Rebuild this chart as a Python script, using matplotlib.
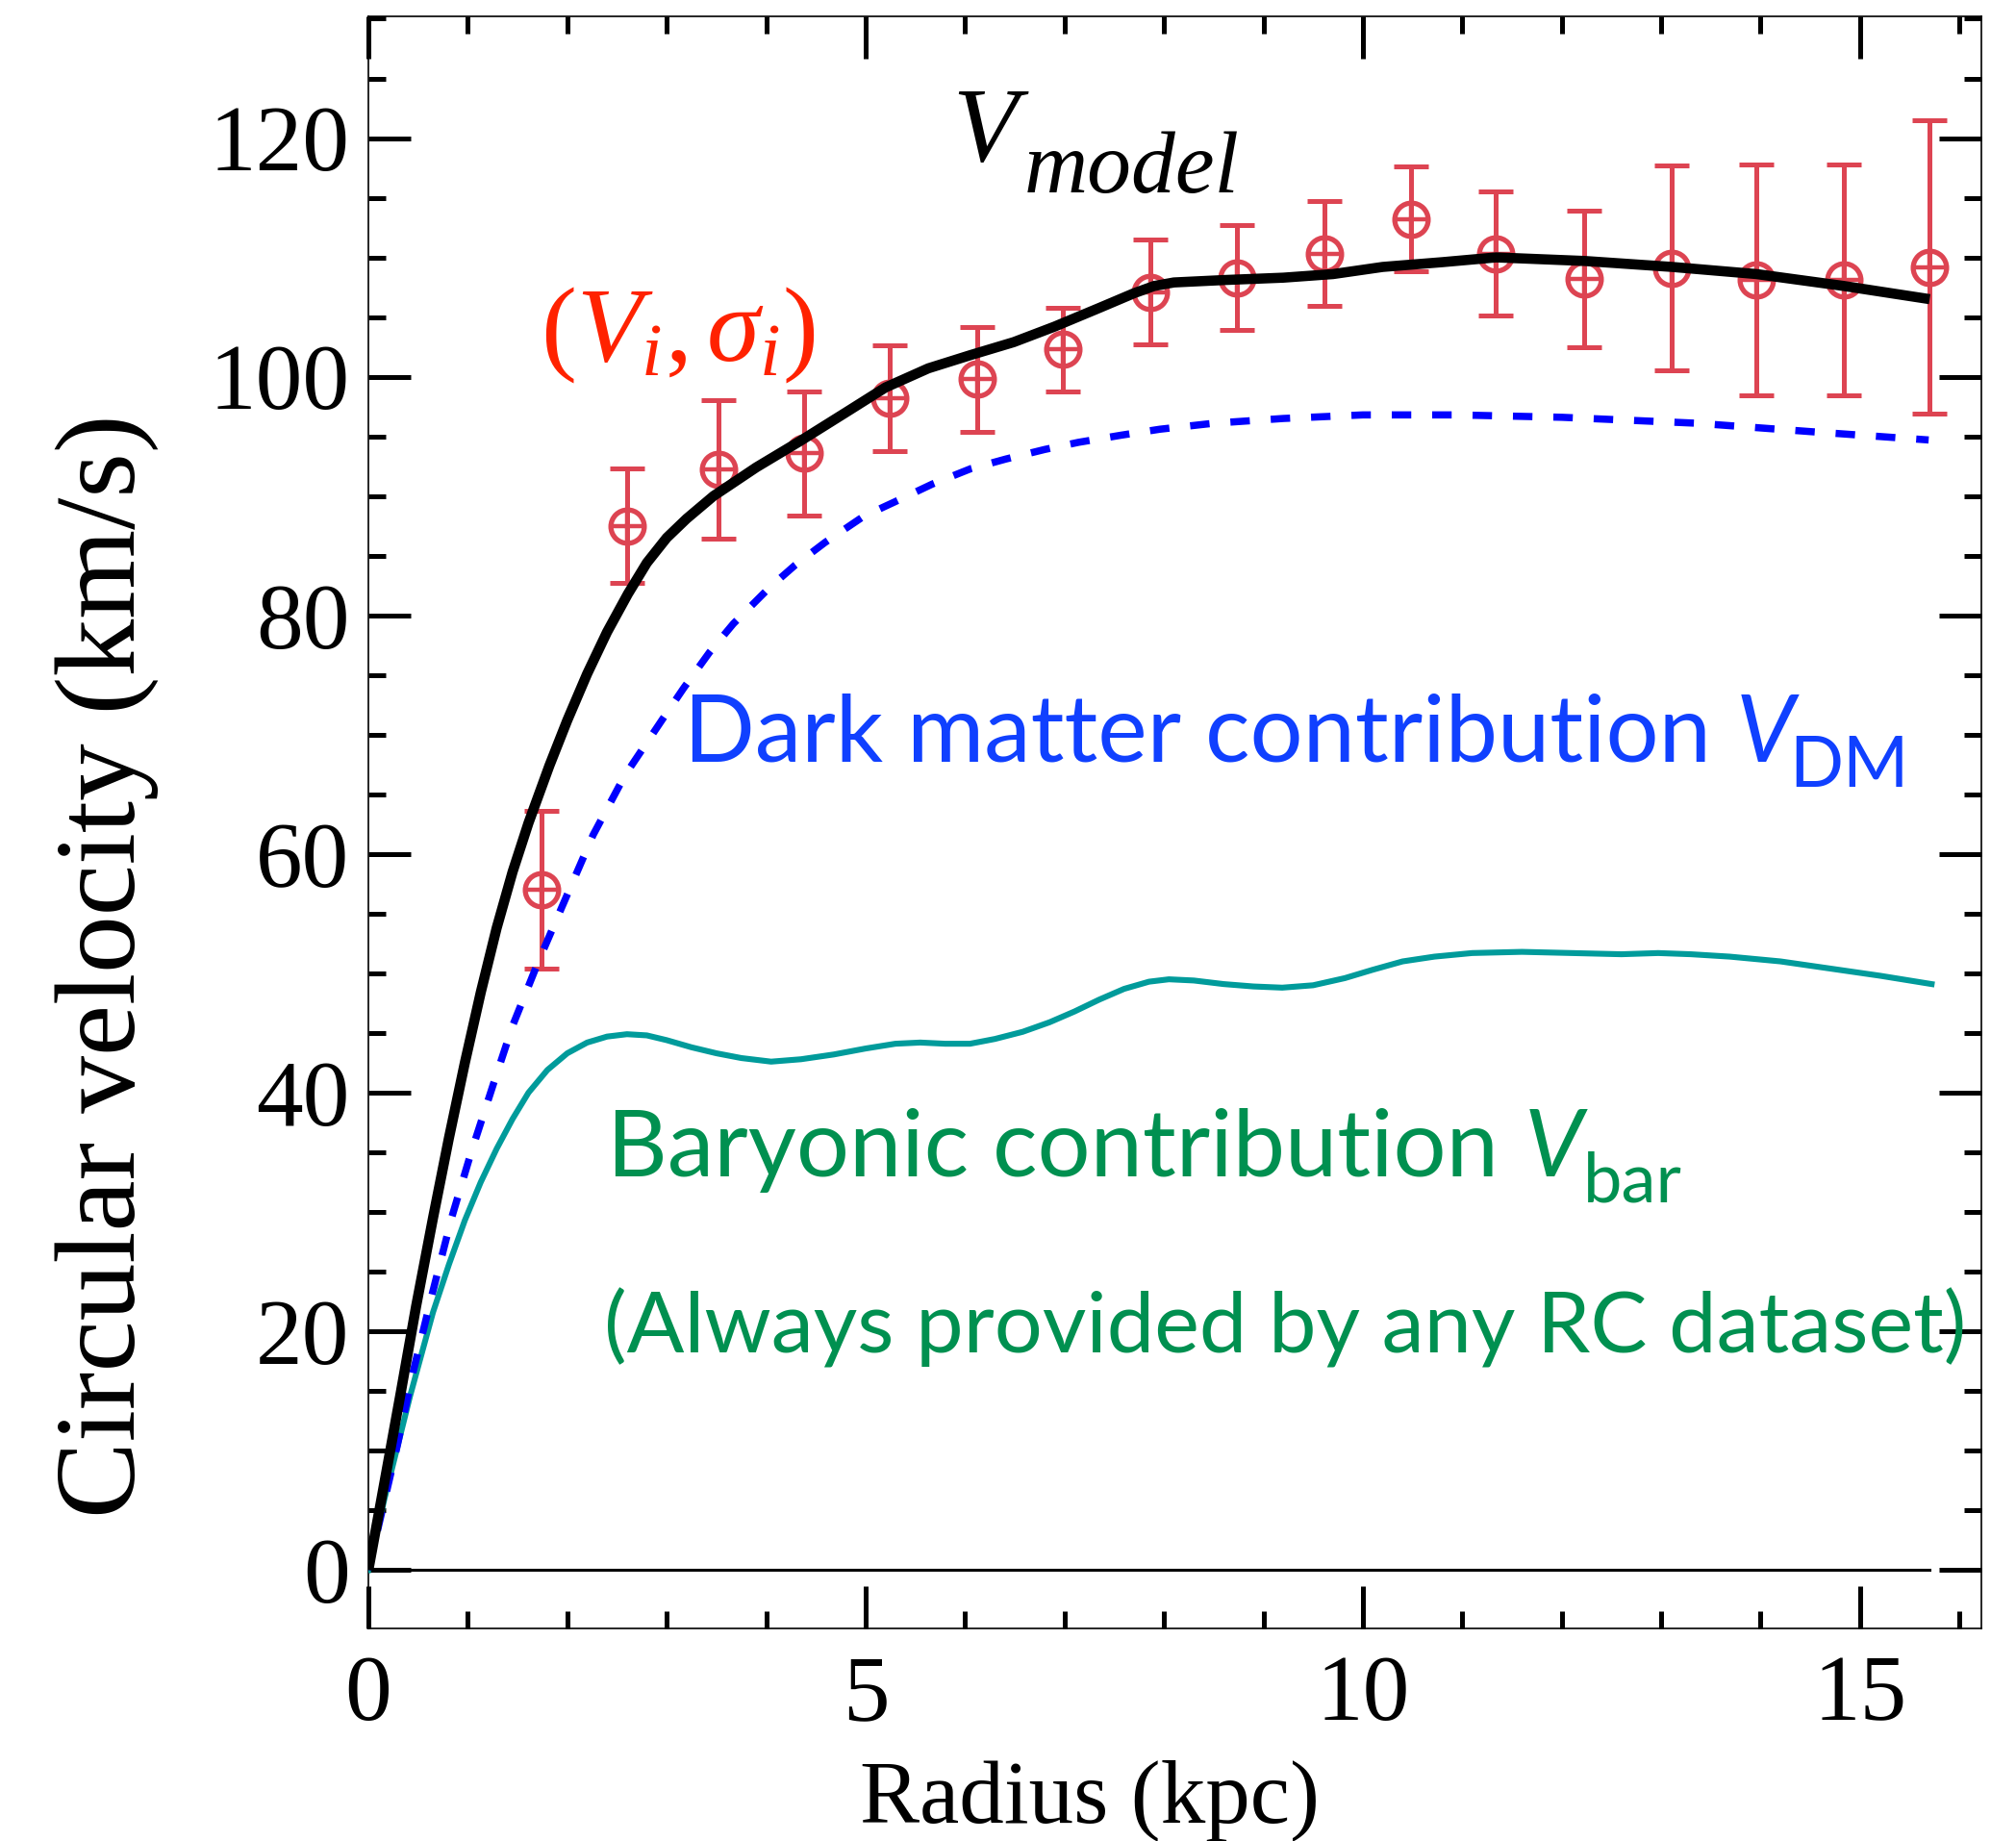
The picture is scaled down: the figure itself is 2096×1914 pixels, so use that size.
import numpy as np
import matplotlib
matplotlib.use("Agg")
import matplotlib.pyplot as plt
from matplotlib.ticker import MultipleLocator

plt.rcParams['font.family'] = ['Liberation Serif', 'DejaVu Serif']
plt.rcParams['mathtext.fontset'] = 'custom'
plt.rcParams['mathtext.rm'] = 'Liberation Serif'
plt.rcParams['mathtext.it'] = 'Liberation Serif:italic'

#Observed rotation curve points (V_i, sigma_i)
r_obs = [1.745, 2.60, 3.52, 4.38, 5.24, 6.12, 6.98, 7.86, 8.73, 9.61,
         10.48, 11.34, 12.23, 13.11, 13.96, 14.84, 15.70]
v_obs = [57.0, 87.5, 92.2, 93.6, 98.2, 99.8, 102.3, 107.1, 108.3, 110.3,
         113.2, 110.3, 108.2, 109.1, 108.1, 108.1, 109.2]
v_err = [6.6, 4.8, 5.8, 5.2, 4.4, 4.4, 3.5, 4.4, 4.4, 4.4,
         4.4, 5.2, 5.7, 8.6, 9.7, 9.7, 12.3]

#Model curve V_model
r_model = [0.0, 0.13, 0.32, 0.48, 0.65, 0.81, 0.97, 1.13, 1.29, 1.45, 1.61,
           1.82, 2.0, 2.2, 2.4, 2.61, 2.8, 3.0, 3.2, 3.47, 3.9, 4.34, 4.8, 5.2,
           5.63, 6.05, 6.49, 6.9, 7.36, 7.7, 7.9, 8.1, 8.6, 9.2, 9.7, 10.2, 10.8,
           11.34, 12.23, 13.11, 13.96, 14.84, 15.70]
v_model = [0.0, 5.9, 14.6, 22.1, 29.5, 36.2, 42.5, 48.4, 53.8, 58.5, 62.6,
           67.4, 71.2, 75.1, 78.6, 81.8, 84.4, 86.5, 88.1, 90.0, 92.4, 94.6, 97.0, 99.1,
           100.7, 101.8, 102.9, 104.2, 105.8, 107.0, 107.6, 107.9, 108.1, 108.3, 108.6, 109.2, 109.6,
           110.0, 109.7, 109.2, 108.6, 107.6, 106.5]

#Dark matter contribution V_DM
r_dm = [0.0, 0.10, 0.29, 0.45, 0.65, 0.84, 1.03, 1.26, 1.45, 1.71, 2.0,
        2.26, 2.58, 2.95, 3.17, 3.43, 3.67, 4.03, 4.29, 4.59, 4.98, 5.29,
        5.67, 6.06, 6.41, 6.80, 7.14, 7.57, 7.96, 8.5, 9.2, 10.0, 10.95,
        12.0, 13.36, 14.5, 15.69]
v_dm = [0.0, 3.6, 10.4, 16.6, 23.4, 29.6, 34.9, 40.8, 45.6, 51.0, 56.6,
        61.6, 66.6, 71.2, 73.9, 76.9, 79.3, 82.3, 84.2, 86.1, 88.3, 89.5,
        91.0, 92.3, 93.1, 93.9, 94.5, 95.1, 95.6, 96.1, 96.5, 96.8, 96.8,
        96.6, 96.1, 95.4, 94.7]

#Baryonic contribution V_bar
r_bar = [0.0, 0.16, 0.42, 0.65, 0.81, 0.97, 1.13, 1.29, 1.45, 1.61, 1.8,
         2.0, 2.2, 2.4, 2.6, 2.8, 3.0, 3.25, 3.5, 3.75, 4.05, 4.35, 4.68,
         5.0, 5.3, 5.55, 5.8, 6.05, 6.3, 6.58, 6.85, 7.1, 7.35, 7.6, 7.85,
         8.05, 8.3, 8.6, 8.9, 9.19, 9.5, 9.82, 10.1, 10.4, 10.72, 11.1, 11.6,
         12.1, 12.6, 12.97, 13.3, 13.69, 14.2, 14.7, 15.2, 15.72]
v_bar = [0.0, 5.9, 14.6, 21.6, 25.6, 29.3, 32.5, 35.3, 37.8, 40.0, 41.9,
         43.3, 44.2, 44.7, 44.9, 44.8, 44.4, 43.8, 43.3, 42.9, 42.6, 42.8, 43.2,
         43.7, 44.1, 44.2, 44.1, 44.1, 44.5, 45.1, 45.9, 46.8, 47.8, 48.7, 49.3,
         49.5, 49.4, 49.1, 48.9, 48.8, 49.0, 49.6, 50.3, 51.0, 51.4, 51.7, 51.8,
         51.7, 51.6, 51.7, 51.6, 51.4, 51.0, 50.4, 49.8, 49.1]

W, H = 2096, 1914
fig = plt.figure(figsize=(W/200., H/200.), dpi=200)
ax = fig.add_axes([383/W, 1-1693/H, (2060-383)/W, (1693-17)/H])

red = '#dd4452'
ax.errorbar(r_obs, v_obs, yerr=v_err, fmt='none', ecolor=red,
            elinewidth=1.8, capsize=6.4, capthick=1.8, zorder=2)
ax.plot(r_obs, v_obs, 'o', mfc='none', mec=red, ms=12.5, mew=1.9, zorder=2)
ax.plot(r_obs, v_obs, '+', color=red, ms=12.5, mew=1.6, zorder=2)

ax.plot([0, r_obs[-1]], [0, 0], color='black', lw=1.1, zorder=3)
ax.plot(r_bar, v_bar, color='#009b9b', lw=2.2, zorder=3)
ax.plot(r_dm, v_dm, color='#0000ff', lw=2.7, ls=(0, (2.7, 2.9)), zorder=4)
ax.plot(r_model, v_model, color='black', lw=3.8, zorder=5,
        solid_capstyle='butt', solid_joinstyle='round')

ax.set_xlim(0, 16.22)
ax.set_ylim(-4.9, 130.2)
ax.xaxis.set_major_locator(MultipleLocator(5))
ax.xaxis.set_minor_locator(MultipleLocator(1))
ax.yaxis.set_minor_locator(MultipleLocator(5))
ax.set_yticks([0, 20, 40, 60, 80, 100, 120])
ax.tick_params(which='both', direction='in', top=True, right=True,
               width=1.8, labelsize=35)
ax.tick_params(which='major', length=16)
ax.tick_params(which='minor', length=6.5)
ax.tick_params(axis='x', pad=10)
ax.tick_params(axis='y', pad=7)
for sp in ax.spines.values():
    sp.set_linewidth(0.6)

def fx(px):
    return px/W

def fy(py):
    return 1-py/H

#Axis labels
fig.text(fx(1133), fy(1895), 'Radius (kpc)', fontsize=33.5,
         ha='center', va='baseline')
fig.text(fx(140), fy(1004), 'Circular velocity (km/s)', fontsize=43,
         rotation=90, rotation_mode='anchor', ha='center', va='baseline')

#Annotations
fig.text(fx(990), fy(167), 'V', fontsize=40, style='italic',
         ha='left', va='baseline')
fig.text(fx(1065), fy(200), 'model', fontsize=33, style='italic',
         ha='left', va='baseline')
fig.text(fx(562), fy(375), r'$(V_i, \sigma_i)$', fontsize=40,
         color='#ff2200', ha='left', va='baseline')

blue = '#1040ff'
sans = 'Lato'
fig.text(fx(711), fy(792), 'Dark matter contribution', fontsize=35,
         family=sans, color=blue, ha='left', va='baseline')
fig.text(fx(1805), fy(792), 'V', fontsize=35, family=sans, style='italic',
         color=blue, ha='left', va='baseline')
fig.text(fx(1860), fy(818), 'DM', fontsize=26.5, family=sans,
         color=blue, ha='left', va='baseline')

green = '#009050'
fig.text(fx(631), fy(1223), 'Baryonic contribution', fontsize=35,
         family=sans, color=green, ha='left', va='baseline')
fig.text(fx(1585), fy(1223), 'V', fontsize=35, family=sans, style='italic',
         color=green, ha='left', va='baseline')
fig.text(fx(1646), fy(1250), 'bar', fontsize=26, family=sans,
         color=green, ha='left', va='baseline')
fig.text(fx(628), fy(1407), '(Always provided by any RC dataset)', fontsize=31.8,
         family=sans, color=green, ha='left', va='baseline')

fig.savefig('out.png', dpi=200)
